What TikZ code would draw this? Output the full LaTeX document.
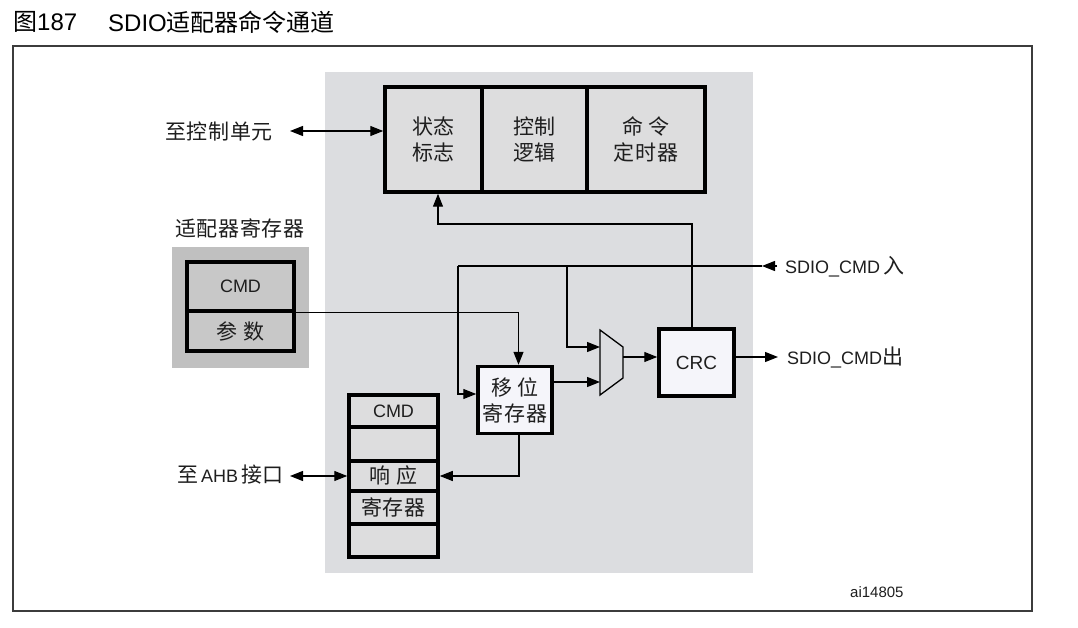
\documentclass[tikz,border=0pt]{standalone}
\usepackage{fontspec}
\setmainfont{Liberation Sans}
\newfontfamily\cjk[LetterSpace=3]{Noto Sans CJK SC}
\newfontfamily\cjkt{Noto Sans CJK SC}
\usetikzlibrary{arrows.meta}
\definecolor{panelgray}{RGB}{220,221,224}
\definecolor{cellgray}{RGB}{221,221,222}
\definecolor{adaptgray}{RGB}{192,192,192}
\definecolor{adaptcell}{RGB}{200,200,200}
\definecolor{whitecell}{RGB}{245,245,250}
\definecolor{framecol}{RGB}{60,60,60}
\definecolor{txt}{RGB}{30,30,30}
\begin{document}
\begin{tikzpicture}[x=1pt,y=-1pt,
  ln/.style={line width=1.3pt,draw=black},
  arr/.style={ln,-{Triangle[length=13pt,width=10pt]}},
  darr/.style={ln,{Triangle[length=13pt,width=10pt]}-{Triangle[length=13pt,width=10pt]}},
  blk/.style={draw=black,line width=3.5pt,inner sep=0pt,align=center,text=txt},
  cjklbl/.style={inner sep=0pt,text=txt,font=\fontsize{21}{26}\selectfont\cjk},
  latlbl/.style={inner sep=0pt,text=txt,font=\fontsize{18}{22}\selectfont},
  cjkin/.style={font=\fontsize{21}{26}\selectfont\cjk},
  latin/.style={font=\fontsize{18}{20}\selectfont},
]
\useasboundingbox (0,0) rectangle (1078,628);
\fill[white] (0,0) rectangle (1078,628);

% title
\node[inner sep=0pt,anchor=west,text=black] (title1) at (13,22)
  {\fontsize{24}{28}\selectfont{\cjkt 图}187};
\node[inner sep=0pt,anchor=west,text=black] (title2) at (108,22)
  {\fontsize{24}{28}\selectfont SDIO{\cjkt 适配器命令通道}};

% outer frame
\node[draw=framecol,line width=1.5pt,minimum width=1019pt,minimum height=565pt,inner sep=0pt] (frame) at (522.5,328.5) {};

% gray panel
\node[fill=panelgray,minimum width=428pt,minimum height=501pt,inner sep=0pt] (panel) at (539,322.5) {};

% top block
\node[blk,fill=cellgray,minimum width=97pt,minimum height=105pt,cjkin] (status) at (433.5,139.5) {状态\\标志};
\node[blk,fill=cellgray,minimum width=105pt,minimum height=105pt,cjkin] (ctrl) at (534.5,139.5) {控制\\逻辑};
\node[blk,fill=cellgray,minimum width=118pt,minimum height=105pt,cjkin] (timer) at (646,139.5) {命 令\\定时器};

% adapter registers
\node[cjklbl,anchor=west] (adlbl) at (175,228) {适配器寄存器};
\node[fill=adaptgray,minimum width=137pt,minimum height=121pt,inner sep=0pt] (adbox) at (240.5,307.5) {};
\node[blk,fill=adaptcell,minimum width=107pt,minimum height=49pt,latin] (adcmd) at (240.5,286.5) {CMD};
\node[blk,fill=adaptcell,minimum width=107pt,minimum height=40pt,cjkin] (param) at (240.5,331) {参 数};

% shift register, CRC
\node[blk,fill=whitecell,minimum width=74pt,minimum height=67pt,cjkin] (shift) at (515,400) {移 位\\寄存器};
\node[blk,fill=whitecell,minimum width=75pt,minimum height=67pt,font=\fontsize{19}{22}\selectfont] (crc) at (696.5,362.5) {CRC};

% mux
\draw[ln] (600,330) -- (623,347) -- (623,378) -- (600,395) -- cycle;
\coordinate (muxin1) at (600,347);
\coordinate (muxin2) at (600,382);
\coordinate (muxout) at (623,357);

% response register stack
\node[blk,fill=cellgray,minimum width=89pt,minimum height=32pt,latin] (scmd) at (393.5,411) {CMD};
\node[blk,fill=cellgray,minimum width=89pt,minimum height=34pt] (sblank1) at (393.5,444) {};
\node[blk,fill=cellgray,minimum width=89pt,minimum height=30pt,cjkin] (resp) at (393.5,476) {响 应};
\node[blk,fill=cellgray,minimum width=89pt,minimum height=33pt,cjkin] (sreg) at (393.5,507.5) {寄存器};
\node[blk,fill=cellgray,minimum width=89pt,minimum height=33pt] (sblank2) at (393.5,540.5) {};

% labels
\node[cjklbl,anchor=west] (ctrllbl) at (165,132) {至控制单元};
\node[inner sep=0pt,anchor=west,text=txt] (ahblbl) at (177,475)
  {\fontsize{21}{26}\selectfont{\cjkt 至}\fontsize{18}{20}\selectfont\hspace{3pt}AHB\hspace{3pt}{\cjkt\fontsize{21}{26}\selectfont 接口}};
\node[latlbl,anchor=west] (inlbl) at (785,267) {SDIO\_CMD\,{\cjk\fontsize{21}{26}\selectfont 入}};
\node[latlbl,anchor=west] (outlbl) at (787,357) {SDIO\_CMD{\cjk\fontsize{21}{26}\selectfont 出}};
\node[inner sep=0pt,anchor=west,text=txt,font=\fontsize{15}{18}\selectfont] (ailbl) at (850,592) {ai14805};

% coordinates
\coordinate (ctrlL) at (290,131);
\coordinate (ahbL) at (290,476);
\coordinate (sdioin) at (777,266);
\coordinate (inTip) at (762,266);
\coordinate (inL) at (458,266);
\coordinate (brA) at (567,266);
\coordinate (bend) at (438,224);
\coordinate (pOut) at (294,312.5);
\coordinate (outTip) at (778,357);

% connectors
\draw[darr] (ctrlL) -- (status.west |- ctrlL);
\draw[arr] ([xshift=-4.5pt]crc.north) |- (bend) -- ([xshift=4.5pt]status.south);
\draw[arr] (sdioin) -- (inTip);
\draw[ln] (inTip) -- (inL);
\draw[arr] (inL) |- ([yshift=6pt]shift.west);
\draw[arr] (brA) |- (muxin1);
\draw[arr] (pOut) -| ([xshift=3.5pt]shift.north);
\draw[arr] (shift.east |- muxin2) -- (muxin2);
\draw[arr] (muxout) -- (crc.west |- muxout);
\draw[arr] ([yshift=5.5pt]crc.east) -- (outTip);
\draw[arr] ([xshift=4pt]shift.south) |- (resp.east);
\draw[darr] (ahbL) -- (resp.west);
\end{tikzpicture}
\end{document}
